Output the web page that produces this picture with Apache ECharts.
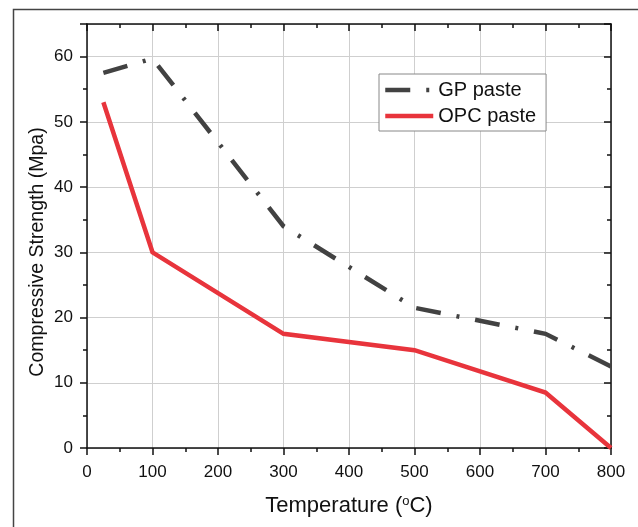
<!DOCTYPE html>
<html>
<head>
<meta charset="utf-8">
<script src="https://cdn.jsdelivr.net/npm/echarts@6/dist/echarts.min.js"></script>
<style>html,body{margin:0;padding:0;background:#fff}#c{width:638px;height:527px}</style>
</head>
<body>
<div id="c"></div>
<script>
var temps = [25, 100, 300, 500, 700, 800];
var gpPaste = [57.5, 59.7, 34, 21.5, 17.5, 12.5];
var opcPaste = [53, 30, 17.5, 15, 8.5, 0];
var seriesNames = ['GP paste', 'OPC paste'];
var xTitle = 'Temperature (';
var yTitle = 'Compressive Strength (Mpa)';

var FONT = '"Liberation Sans", Arial, Helvetica, sans-serif';
function pairs(xs, ys) { return xs.map(function (x, i) { return [x, ys[i]]; }); }

var chart = echarts.init(document.getElementById('c'), null, { renderer: 'canvas' });
var axisLineStyle = { color: '#111', width: 1.5 };
var gpLine = { color: '#424242', width: 4.5, type: [25, 16, 3, 16], cap: 'butt', join: 'miter' };
var opcLine = { color: '#e8343c', width: 4.5, type: 'solid', join: 'miter' };
chart.setOption({
  animation: false,
  backgroundColor: '#fff',
  graphic: [{
    type: 'rect', left: 11, top: 7, z: -10,
    shape: { width: 700, height: 600 },
    style: { fill: 'none', stroke: '#444', lineWidth: 1.5 }
  }],
  grid: { left: 87, right: 27, top: 24, bottom: 79, containLabel: false },
  legend: {
    orient: 'vertical', left: 379, top: 74,
    itemWidth: 48, itemHeight: 14, itemGap: 6,
    padding: [6, 10, 5, 4],
    borderColor: '#888', borderWidth: 1, backgroundColor: '#fff',
    itemStyle: { opacity: 0 },
    lineStyle: { width: 4.5 },
    textStyle: { fontSize: 20, fontFamily: FONT, color: '#111' },
    data: seriesNames
  },
  xAxis: [{
    type: 'value', min: 0, max: 800, interval: 100, position: 'bottom',
    name: xTitle + '{sup|o}C)', nameLocation: 'middle', nameGap: 47,
    nameTextStyle: { fontSize: 22, fontFamily: FONT, color: '#111',
      rich: { sup: { fontSize: 13, fontFamily: FONT, color: '#111', verticalAlign: 'top', lineHeight: 22 } } },
    axisLine: { show: true, lineStyle: axisLineStyle },
    axisTick: { show: true, inside: false, length: 7, lineStyle: { color: '#111', width: 1.5 } },
    minorTick: { show: true, splitNumber: 2, length: 4, lineStyle: { color: '#111', width: 1.5 } },
    axisLabel: { fontSize: 17, fontFamily: FONT, color: '#111', margin: 16 },
    splitLine: { show: true, lineStyle: { color: '#cfcfcf', width: 1 } }
  }, {
    type: 'value', min: 0, max: 800, interval: 100, position: 'top',
    axisLine: { show: true, onZero: false, lineStyle: axisLineStyle },
    axisTick: { show: true, inside: true, length: 7, lineStyle: { color: '#111', width: 1.5 } },
    minorTick: { show: true, splitNumber: 2, length: 4, lineStyle: { color: '#111', width: 1.5 } },
    axisLabel: { show: false },
    splitLine: { show: false }
  }],
  yAxis: [{
    type: 'value', min: 0, max: 65, interval: 10, position: 'left',
    name: yTitle, nameLocation: 'middle', nameGap: 39, nameMoveOverlap: false,
    nameTextStyle: { fontSize: 19.5, fontFamily: FONT, color: '#111', padding: [0, 32, 0, 0] },
    axisLine: { show: true, onZero: false, lineStyle: axisLineStyle },
    axisTick: { show: true, inside: false, length: 7, lineStyle: { color: '#111', width: 1.5 } },
    minorTick: { show: true, splitNumber: 2, length: 4, lineStyle: { color: '#111', width: 1.5 } },
    axisLabel: { fontSize: 17, fontFamily: FONT, color: '#111', margin: 14, showMaxLabel: false },
    splitLine: { show: true, lineStyle: { color: '#cfcfcf', width: 1 } }
  }, {
    type: 'value', min: 0, max: 65, interval: 10, position: 'right',
    axisLine: { show: true, onZero: false, lineStyle: axisLineStyle },
    axisTick: { show: true, inside: true, length: 7, lineStyle: { color: '#111', width: 1.5 } },
    minorTick: { show: true, splitNumber: 2, length: 4, lineStyle: { color: '#111', width: 1.5 } },
    axisLabel: { show: false },
    splitLine: { show: false }
  }],
  series: [{
    name: seriesNames[0], type: 'line', xAxisIndex: 0, yAxisIndex: 0,
    data: pairs(temps, gpPaste), showSymbol: false, symbol: 'none',
    lineStyle: gpLine, itemStyle: { color: '#424242' }, z: 3
  }, {
    name: seriesNames[1], type: 'line', xAxisIndex: 0, yAxisIndex: 0,
    data: pairs(temps, opcPaste), showSymbol: false, symbol: 'none',
    lineStyle: opcLine, itemStyle: { color: '#e8343c' }, z: 4
  }]
});
</script>
</body>
</html>
